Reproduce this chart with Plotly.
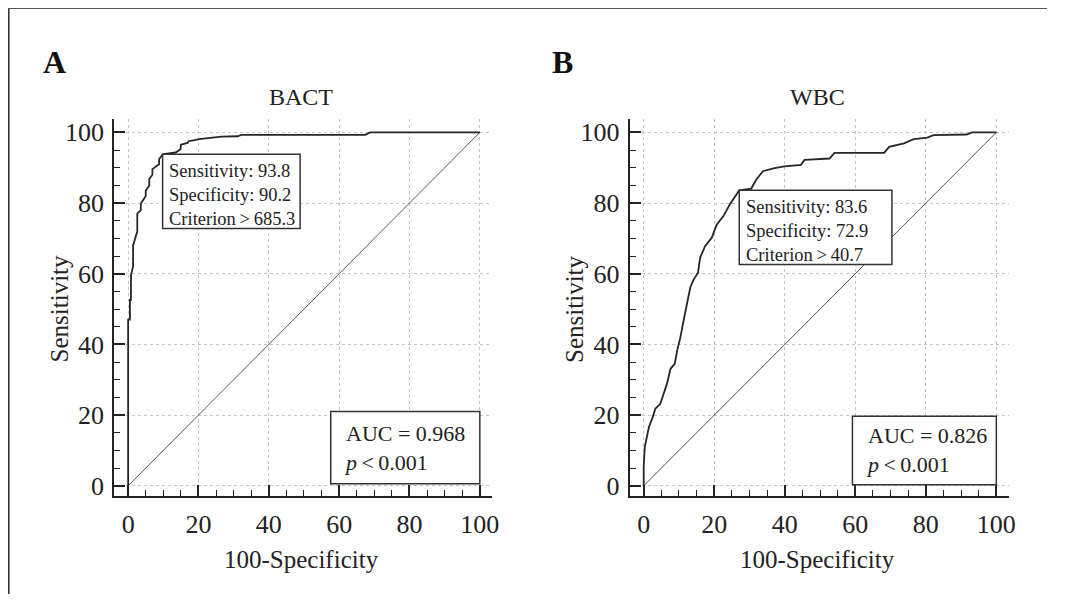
import plotly.graph_objects as go

# ROC curve A (BACT): 100-Specificity vs Sensitivity
bact_fpr = [0, 0, 0.5, 0.5, 0.8, 0.8, 1.4, 1.4, 2.6, 2.6, 3.6, 3.6, 5.0, 5.0, 6.0, 6.0,
            6.9, 6.9, 8.8, 8.8, 9.8, 13.5, 14.9, 15.0, 16.9, 17.2, 18.8, 20.2, 26.6,
            31.2, 32.1, 67.4, 68.8, 100]
bact_tpr = [0, 47.0, 47.0, 52.6, 52.6, 59.6, 62.0, 68.0, 72.0, 77.0, 78.0, 79.8, 82.0, 83.5,
            85.0, 86.8, 88.0, 89.6, 91.0, 92.4, 93.8, 94.3, 95.2, 96.5, 97.0, 97.5, 97.8,
            98.1, 98.8, 98.9, 99.3, 99.3, 100, 100]

# ROC curve B (WBC)
wbc_fpr = [0, 0, 0.3, 0.8, 1.5, 2.4, 3.3, 4.7, 5.7, 6.6, 7.6, 8.8, 9.5, 10.4, 11.3, 12.3,
           13.2, 14.2, 15.4, 16.0, 17.4, 19.3, 20.7, 22.6, 24.4, 26.3, 27.1, 30.5, 31.9,
           33.8, 37.1, 39.9, 44.6, 45.6, 52.7, 54.1, 68.2, 69.6, 73.8, 76.6, 80.4, 82.2,
           91.6, 93.1, 100]
wbc_tpr = [0, 5.4, 11.0, 13.8, 16.7, 19.0, 21.8, 23.2, 26.0, 28.9, 33.1, 34.5, 38.3, 42.0,
           46.7, 51.4, 56.1, 58.4, 60.3, 64.5, 67.8, 70.2, 73.9, 76.3, 79.6, 82.4, 83.6,
           84.1, 86.6, 89.0, 89.9, 90.4, 90.8, 92.2, 92.6, 94.2, 94.2, 95.9, 96.9, 98.1,
           98.5, 99.2, 99.4, 100, 100]

ref_line = [0, 100]
tick_vals = [0, 20, 40, 60, 80, 100]

panels = [
    dict(name="BACT", letter="A", fpr=bact_fpr, tpr=bact_tpr,
         sens="93.8", spec="90.2", crit="685.3", auc="0.968"),
    dict(name="WBC", letter="B", fpr=wbc_fpr, tpr=wbc_tpr,
         sens="83.6", spec="72.9", crit="40.7", auc="0.826"),
]

# page body has an 8px margin, so the figure sits at (8, 8);
# keep it a little smaller than the window so no scrollbars appear
OFF = 8
W, H = 1046, 590
FONT = "Liberation Serif, Times New Roman, serif"
INK = "#222"
THIN = "\u2009"

# page-pixel geometry of the two plot areas: (left, right, top, bottom)
areas = [(114.8, 495.4, 119.7, 499.7), (633.8, 1015.4, 119.7, 499.7)]
XR = [-4, 103.5]
YR = [-3, 103.8]


def px(v):
    return (v - OFF) / W


def py(v):
    return 1 - (v - OFF) / H


fig = go.Figure()

for i, p in enumerate(panels):
    xa = "x" if i == 0 else "x2"
    ya = "y" if i == 0 else "y2"
    fig.add_trace(go.Scatter(x=ref_line, y=ref_line, mode="lines",
                             line=dict(color="#555555", width=1),
                             xaxis=xa, yaxis=ya, hoverinfo="skip"))
    fig.add_trace(go.Scatter(x=p["fpr"], y=p["tpr"], mode="lines",
                             line=dict(color="#262626", width=1.8),
                             xaxis=xa, yaxis=ya, name=p["name"]))

axis_common = dict(
    tickvals=tick_vals, ticks="inside", ticklen=11, tickwidth=1.5, tickcolor=INK,
    minor=dict(dtick=5, ticks="inside", ticklen=6, tickwidth=1.2, tickcolor=INK,
               showgrid=False),
    showline=True, linecolor=INK, linewidth=2,
    showgrid=True, gridcolor="#c4c4c4", griddash="dot", gridwidth=1,
    zeroline=False, tickfont=dict(family=FONT, size=26, color=INK),
    fixedrange=True,
)

layout_axes = {}
for i, (l, r, t, b) in enumerate(areas):
    sx = "xaxis" if i == 0 else "xaxis2"
    sy = "yaxis" if i == 0 else "yaxis2"
    ax_id = "" if i == 0 else "2"
    layout_axes[sx] = dict(axis_common, domain=[px(l), px(r)], range=XR,
                           anchor="y" + ax_id, ticklabelstandoff=3)
    layout_axes[sy] = dict(axis_common, domain=[py(b), py(t)], range=YR,
                           anchor="x" + ax_id, ticklabelstandoff=3)

fig.update_layout(**layout_axes)

shapes = [
    # outer border of the figure panel (left and top edges)
    dict(type="line", xref="paper", yref="paper", x0=0.8 / W, x1=0.8 / W, y0=0, y1=1,
         line=dict(color="#333", width=1.6), layer="below"),
    dict(type="line", xref="paper", yref="paper", x0=0, x1=1, y0=1 - 0.5 / H, y1=1 - 0.5 / H,
         line=dict(color="#555", width=1.2), layer="below"),
]
annotations = []

cut_boxes = [(9.8, 93.8, 48.9, 72.8), (27.1, 83.6, 70.4, 62.6)]
auc_boxes = [(57.6, 0.6, 100, 21.0), (59.2, 0.3, 100, 19.7)]

for i, p in enumerate(panels):
    xa = "x" if i == 0 else "x2"
    ya = "y" if i == 0 else "y2"
    l, r, t, b = areas[i]
    x0, y0, x1, y1 = cut_boxes[i]
    shapes.append(dict(type="rect", xref=xa, yref=ya, x0=x0, y0=y1, x1=x1, y1=y0,
                       fillcolor="white", line=dict(color="#333", width=1.5), layer="above"))
    annotations.append(dict(
        xref=xa, yref=ya, x=x0 + 1.2, y=(y0 + y1) / 2 - 1.0, xanchor="left", yanchor="middle",
        showarrow=False, align="left",
        text=(f"Sensitivity: {p['sens']}<br>Specificity: {p['spec']}<br>"
              f"Criterion{THIN}>{THIN}{p['crit']}"),
        font=dict(family=FONT, size=18.5, color=INK)))
    ax0, ay0, ax1, ay1 = auc_boxes[i]
    shapes.append(dict(type="rect", xref=xa, yref=ya, x0=ax0, y0=ay0, x1=ax1, y1=ay1,
                       fillcolor="white", line=dict(color="#333", width=1.5), layer="above"))
    annotations.append(dict(
        xref=xa, yref=ya, x=ax0 + 3.2, y=(ay0 + ay1) / 2, xanchor="left", yanchor="middle",
        showarrow=False, align="left",
        text=f"AUC = {p['auc']}<br><i>p</i>{THIN}<{THIN}0.001",
        font=dict(family=FONT, size=22, color=INK)))
    # subplot title
    annotations.append(dict(
        xref="paper", yref="paper", x=px((l + r) / 2 - 2), y=py(98),
        xanchor="center", yanchor="middle", showarrow=False, text=p["name"],
        font=dict(family=FONT, size=24, color=INK)))
    # axis titles
    annotations.append(dict(
        xref="paper", yref="paper", x=px((l + r) / 2 - 2), y=py(563),
        xanchor="center", yanchor="middle", showarrow=False, text="100-Specificity",
        font=dict(family=FONT, size=25, color=INK)))
    annotations.append(dict(
        xref="paper", yref="paper", x=px(l - 55), y=py(311), textangle=-90,
        xanchor="center", yanchor="middle", showarrow=False, text="Sensitivity",
        font=dict(family=FONT, size=25, color=INK)))
    # panel letter
    annotations.append(dict(
        xref="paper", yref="paper", x=px(41 if i == 0 else 554), y=py(62),
        xanchor="left", yanchor="middle", showarrow=False, text=f"<b>{p['letter']}</b>",
        font=dict(family=FONT, size=32, color="#111")))

fig.update_layout(
    width=W, height=H,
    margin=dict(l=0, r=0, t=0, b=0),
    paper_bgcolor="white", plot_bgcolor="white",
    showlegend=False,
    shapes=shapes, annotations=annotations,
)

fig.write_html("out.html")
